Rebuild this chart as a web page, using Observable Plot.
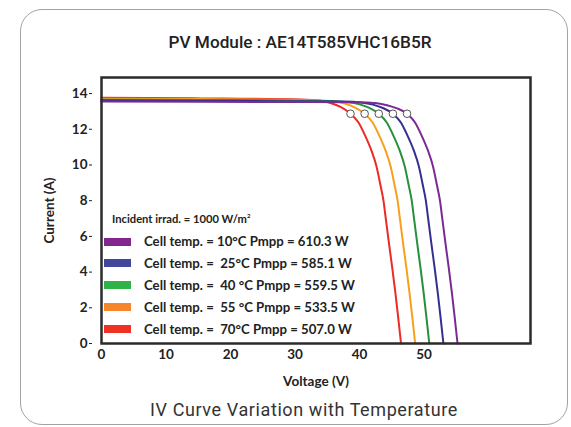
<!DOCTYPE html>
<html>
<head>
<meta charset="utf-8">
<script src="https://cdn.jsdelivr.net/npm/d3@7"></script>
<script src="https://cdn.jsdelivr.net/npm/@observablehq/plot@0.6"></script>
<style>
  body { margin: 0; background: #fff; }
  #wrap { position: relative; width: 571px; height: 427px; overflow: hidden; background: #fff; }
  #card { position: absolute; left: 20px; top: 9px; width: 548px; height: 416px; box-sizing: border-box;
          border: 1.5px solid #a3a3a3; border-radius: 22px; }
  #title { position: absolute; left: 100px; width: 400px; top: 31px; text-align: center;
           font-family: Roboto, sans-serif; font-weight: 500; font-size: 17.2px; color: #222; line-height: 22px; }
  #caption { position: absolute; left: 104px; width: 400px; top: 400px; text-align: center;
           font-family: Roboto, sans-serif; font-size: 18px; color: #333; line-height: 20px; letter-spacing: 0.6px; }
  #chart { position: absolute; left: 0; top: 0; }
  .irr { position: absolute; left: 112px; top: 212px; font-family: Lato, sans-serif; font-size: 11.2px; font-weight: 700; color: #222; white-space: pre; }
  .irr sup { font-size: 6px; }
  .sw { position: absolute; left: 104px; width: 27px; height: 8px; }
  .lt { position: absolute; left: 144px; font-family: Lato, sans-serif; font-size: 13.2px; font-weight: 700; color: #222; white-space: pre; line-height: 14px; }
</style>
</head>
<body>
<div id="wrap">
  <div id="card"></div>
  <div id="chart"></div>
  <div id="title"></div>
  <div id="caption"></div>
</div>
<script>
// ---- data ----
const titleText = "PV Module : AE14T585VHC16B5R";
const captionText = "IV Curve Variation with Temperature";
const xLabel = "Voltage (V)";
const yLabel = "Current (A)";
const irradText = "Incident irrad. = 1000 W/m";

const series = ["70°C", "55°C", "40°C", "25°C", "10°C"];
const lineColors = ["#ec2a26", "#f7a01c", "#2a8f3a", "#35308f", "#7b2a92"];

const v70 = [0, 15.4, 30.85, 33.95, 35.5, 37.05, 38.6, 39.84, 40.92, 41.85, 42.63, 43.25, 43.71, 44.03, 44.5, 45.06, 45.57, 45.99, 46.43];
const i70 = [13.76, 13.73, 13.67, 13.6, 13.47, 13.25, 12.87, 12.38, 11.6, 10.8, 9.92, 8.85, 8.0, 7.1, 5.77, 4.27, 2.8, 1.46, 0];
const v55 = [0, 15.4, 33.04, 36.14, 37.69, 39.24, 40.79, 42.03, 43.11, 44.04, 44.82, 45.44, 45.9, 46.22, 46.69, 47.25, 47.76, 48.18, 48.62];
const i55 = [13.71, 13.69, 13.63, 13.56, 13.44, 13.23, 12.87, 12.38, 11.6, 10.8, 9.92, 8.85, 8.0, 7.1, 5.77, 4.27, 2.8, 1.46, 0];
const v40 = [0, 15.4, 35.23, 38.33, 39.88, 41.43, 42.98, 44.22, 45.3, 46.23, 47.01, 47.63, 48.09, 48.41, 48.88, 49.44, 49.95, 50.37, 50.81];
const i40 = [13.66, 13.64, 13.59, 13.52, 13.41, 13.21, 12.87, 12.38, 11.6, 10.8, 9.92, 8.85, 8.0, 7.1, 5.77, 4.27, 2.8, 1.46, 0];
const v25 = [0, 15.4, 37.42, 40.52, 42.07, 43.62, 45.17, 46.41, 47.49, 48.42, 49.2, 49.82, 50.28, 50.6, 51.07, 51.63, 52.14, 52.56, 53.0];
const i25 = [13.61, 13.59, 13.55, 13.49, 13.38, 13.19, 12.87, 12.38, 11.6, 10.8, 9.92, 8.85, 8.0, 7.1, 5.77, 4.27, 2.8, 1.46, 0];
const v10 = [0, 15.4, 39.61, 42.71, 44.26, 45.81, 47.36, 48.6, 49.68, 50.61, 51.39, 52.01, 52.47, 52.79, 53.26, 53.82, 54.33, 54.75, 55.19];
const i10 = [13.56, 13.54, 13.51, 13.46, 13.35, 13.17, 12.87, 12.38, 11.6, 10.8, 9.92, 8.85, 8.0, 7.1, 5.77, 4.27, 2.8, 1.46, 0];

const mppV = [38.6, 40.79, 42.98, 45.17, 47.36];
const mppI = [12.87, 12.87, 12.87, 12.87, 12.87];

const xTicks = [0, 10, 20, 30, 40, 50];
const yTicks = [0, 2, 4, 6, 8, 10, 12, 14];

const legendLabels = [
  "Cell temp. = 10°C Pmpp = 610.3 W",
  "Cell temp. =  25°C Pmpp = 585.1 W",
  "Cell temp. =  40 °C Pmpp = 559.5 W",
  "Cell temp. =  55 °C Pmpp = 533.5 W",
  "Cell temp. =  70°C Pmpp = 507.0 W"
];
const legendColors = ["#84268f", "#41479b", "#2fb24a", "#f6862b", "#ee3224"];

// ---- build tables ----
const volts = [v70, v55, v40, v25, v10];
const amps = [i70, i55, i40, i25, i10];
const rows = [];
series.forEach((s, k) => volts[k].forEach((v, j) => rows.push({series: s, V: v, I: amps[k][j]})));
const mpp = mppV.map((v, j) => ({V: v, I: mppI[j]}));

const chart = Plot.plot({
  width: 571,
  height: 427,
  marginLeft: 101,
  marginRight: 41,
  marginTop: 77,
  marginBottom: 84,
  style: {fontFamily: "Lato, sans-serif", fontSize: "13.5px", fontWeight: "700", color: "#222", background: "transparent"},
  x: {domain: [0, 66.5]},
  y: {domain: [0, 14.9]},
  color: {domain: series, range: lineColors},
  marks: [
    Plot.line(rows, {x: "V", y: "I", z: "series", stroke: "series", strokeWidth: 2, curve: "monotone-x"}),
    Plot.dot(mpp, {x: "V", y: "I", r: 3.8, fill: "white", stroke: "#555", strokeWidth: 1}),
    Plot.frame({stroke: "#2b2b2b", strokeWidth: 2.5}),
    Plot.axisX({ticks: xTicks, tickSize: 0, tickPadding: 6, label: xLabel, labelAnchor: "center", labelArrow: "none", labelOffset: 42}),
    Plot.axisY({ticks: yTicks, tickSize: 3, tickPadding: 2, dx: -9, label: yLabel, labelAnchor: "center", labelArrow: "none", labelOffset: 57})
  ]
});
document.getElementById("chart").appendChild(chart);
document.getElementById("title").textContent = titleText;
document.getElementById("caption").textContent = captionText;

const wrap = document.getElementById("wrap");
const irr = document.createElement("div");
irr.className = "irr";
irr.textContent = irradText;
const sup = document.createElement("sup");
sup.textContent = "2";
irr.appendChild(sup);
wrap.appendChild(irr);

legendLabels.forEach((lab, k) => {
  const cy = 241.5 + k * 21.9;
  const sw = document.createElement("div");
  sw.className = "sw";
  sw.style.top = (cy - 4) + "px";
  sw.style.background = legendColors[k];
  wrap.appendChild(sw);
  const t = document.createElement("div");
  t.className = "lt";
  t.style.top = (cy - 7.5) + "px";
  t.textContent = lab;
  wrap.appendChild(t);
});
</script>
</body>
</html>
